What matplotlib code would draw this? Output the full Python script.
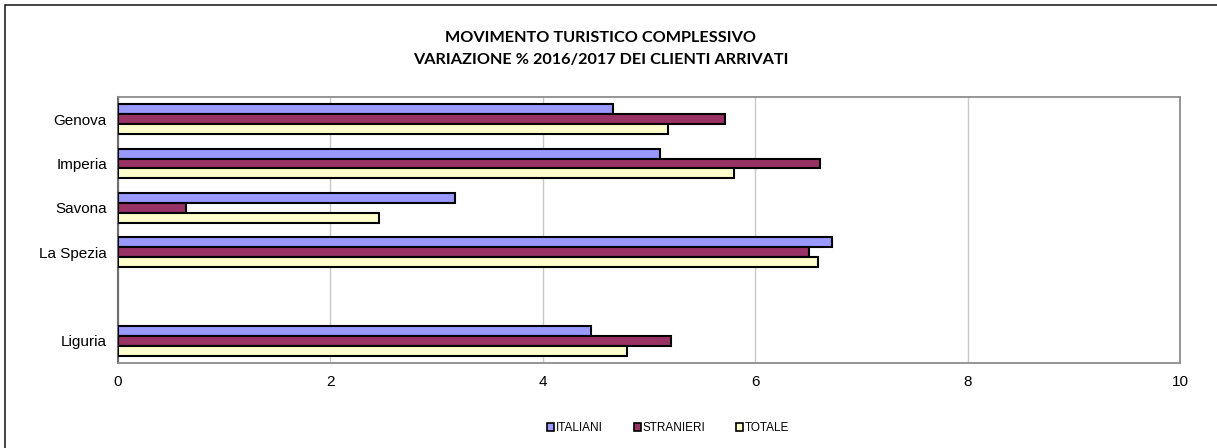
import numpy as np
import matplotlib.pyplot as plt
from matplotlib.patches import Rectangle

# dati (variazione % 2016/2017 dei clienti arrivati)
categorie = ['Genova', 'Imperia', 'Savona', 'La Spezia', '', 'Liguria']
italiani = [4.66, 5.10, 3.17, 6.72, np.nan, 4.45]
stranieri = [5.72, 6.61, 0.64, 6.51, np.nan, 5.21]
totale = [5.18, 5.80, 2.46, 6.59, np.nan, 4.79]
serie = ['ITALIANI', 'STRANIERI', 'TOTALE']
colori = ['#9999FF', '#993366', '#FFFFCC']

W, H = 1217, 448
fig = plt.figure(figsize=(W / 100, H / 100), dpi=100)
ax = fig.add_axes([118 / W, 1 - 363 / H, (1180 - 118) / W, (363 - 97) / H])

# cornice esterna (si vedono solo lato sinistro e superiore)
fig.add_artist(Rectangle((5 / W, -0.05), 1.1, 1 - 5 / H + 0.05, transform=fig.transFigure,
                         fill=False, edgecolor='#222222', linewidth=1.2))

y = np.arange(len(categorie))
h = 0.225
for i, (vals, nome, col) in enumerate(zip([italiani, stranieri, totale], serie, colori)):
    ax.barh(y + (i - 1) * h, vals, height=h, color=col, edgecolor='black',
            linewidth=1.5, label=nome, zorder=3)

ax.set_xlim(0, 10)
ax.set_ylim(len(categorie) - 0.5, -0.5)
ax.set_xticks([0, 2, 4, 6, 8, 10])
ax.set_yticks(y)
ax.set_yticklabels(categorie)
ax.tick_params(axis='both', length=0, labelsize=11, pad=8)
ax.tick_params(axis='x', pad=9)
for lab in ax.get_xticklabels() + ax.get_yticklabels():
    lab.set_fontfamily('Liberation Sans')
ax.grid(axis='x', color='#c8c8c8', linewidth=1, zorder=0)
for s in ['top', 'right', 'bottom']:
    ax.spines[s].set_color('#8c8c8c')
    ax.spines[s].set_linewidth(1.3)
ax.spines['left'].set_color('#6e6e6e')
ax.spines['left'].set_linewidth(1.5)

fig.text(0.4935, 1 - 38 / H, 'MOVIMENTO TURISTICO COMPLESSIVO', ha='center', va='center',
         fontsize=11.7, fontweight='bold', family='Lato')
fig.text(0.4935, 1 - 60 / H, 'VARIAZIONE % 2016/2017 DEI CLIENTI ARRIVATI', ha='center', va='center',
         fontsize=11.7, fontweight='bold', family='Lato')

leg = fig.legend(loc='center', bbox_to_anchor=(0.549, 1 - 428 / H), ncol=3, frameon=False,
                 prop={'family': 'Liberation Sans', 'size': 8.5}, handlelength=0.6, handleheight=0.6,
                 handletextpad=0.15, columnspacing=2.6)
for p in leg.get_patches():
    p.set_linewidth(1.2)

fig.savefig('out.png', dpi=100)
